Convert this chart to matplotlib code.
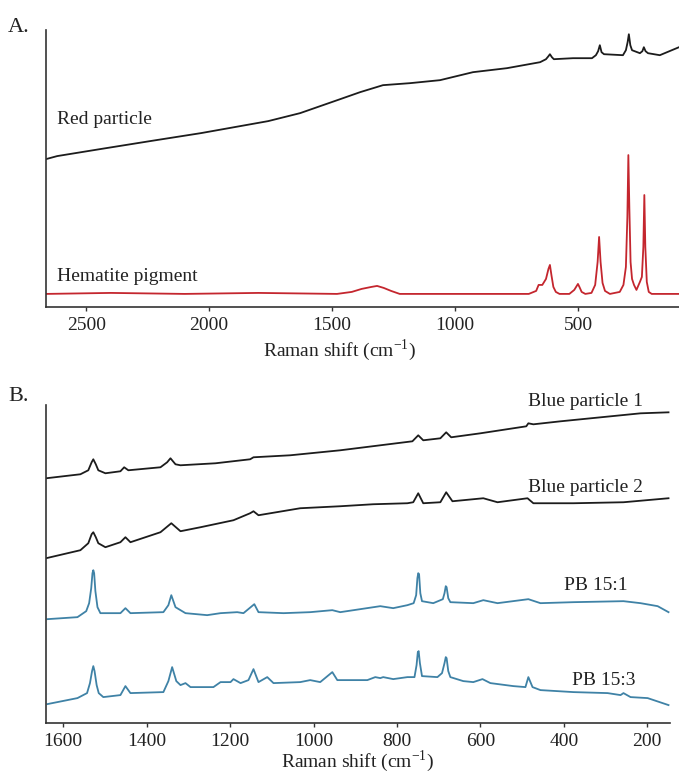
import matplotlib.pyplot as plt

plt.rcParams['font.family'] = ['Liberation Serif', 'DejaVu Serif']
plt.rcParams['mathtext.fontset'] = 'stix'

# ---- Panel A: red particle vs hematite (Raman shift cm-1, intensity a.u.)
red_shift = [2663, 2618, 2443, 2240, 2033, 1760, 1630, 1467, 1386, 1293, 1183, 1061,
             927, 789, 654, 630, 620, 614, 606, 598, 520, 443, 427, 418, 411, 404,
             394, 317, 305, 298, 293, 287, 280, 248, 238, 232, 225, 215, 167, 89]
red_int = [148, 151, 158, 166, 174, 186, 194, 208, 215, 222, 224, 227,
           235, 239, 245, 248, 251, 253, 250, 248, 249, 249, 252, 256, 262, 255,
           253, 252, 257, 265, 273, 262, 257, 254, 256, 260, 256, 254, 252, 260]

hem_shift = [2663, 2400, 2100, 1800, 1480, 1420, 1380, 1340, 1317, 1290, 1260, 1225,
             700, 670, 660, 645, 630, 620, 614, 608, 600, 590, 575, 535, 515, 505,
             500, 494, 485, 470, 445, 430, 420, 414, 408, 400, 390, 370, 330, 315,
             305, 299, 295, 291, 286, 280, 272, 262, 248, 240, 234, 230, 226, 220,
             212, 200, 89]
hem_int = [13, 14, 13, 14, 13, 15, 18, 20, 21, 19, 16, 13,
           13, 16, 22, 22, 28, 38, 42, 32, 20, 15, 13, 13, 17, 21,
           23, 20, 15, 13, 14, 22, 45, 70, 45, 24, 16, 13, 15, 22,
           40, 90, 152, 100, 45, 28, 22, 17, 25, 30, 60, 112, 60, 25,
           15, 13, 13]

# ---- Panel B: blue particles vs phthalocyanine pigments
bp1_shift = [1641, 1559, 1540, 1532, 1528, 1522, 1516, 1499, 1463, 1454, 1444, 1367,
             1351, 1343, 1331, 1319, 1235, 1152, 1144, 1056, 936, 840, 763, 749, 737,
             696, 682, 670, 600, 490, 485, 473, 408, 312, 216, 149]
bp1_int = [245, 249, 253, 261, 264, 259, 253, 250, 252, 256, 253, 256,
           261, 265, 259, 258, 260, 264, 266, 268, 273, 278, 282, 288, 283,
           285, 291, 286, 290, 297, 300, 299, 302, 306, 310, 311]

bp2_shift = [1641, 1559, 1540, 1532, 1528, 1522, 1516, 1499, 1463, 1451, 1439, 1367,
             1341, 1319, 1271, 1192, 1152, 1144, 1132, 1032, 936, 857, 775, 761, 749,
             737, 696, 682, 667, 593, 559, 487, 473, 377, 257, 149]
bp2_int = [165, 173, 180, 189, 191, 186, 180, 176, 181, 186, 181, 191,
           200, 192, 196, 203, 210, 212, 208, 215, 217, 219, 220, 221, 230,
           220, 221, 231, 222, 225, 221, 225, 220, 220, 221, 225]

pb151_shift = [1638, 1566, 1545, 1538, 1533, 1530, 1528, 1526, 1523, 1518, 1511, 1463,
               1451, 1439, 1360, 1348, 1341, 1331, 1307, 1255, 1223, 1183, 1168, 1142,
               1132, 1072, 1008, 955, 936, 840, 809, 775, 760, 754, 751, 749, 747, 744,
               740, 713, 690, 686, 683, 681, 677, 672, 617, 593, 559, 485, 456, 377,
               257, 216, 175, 149]
pb151_int = [104, 106, 112, 120, 135, 150, 153, 150, 132, 116, 110, 110,
             115, 110, 111, 118, 128, 116, 110, 108, 110, 111, 110, 119,
             111, 110, 111, 113, 111, 117, 115, 118, 120, 128, 145, 150, 149, 130,
             122, 120, 124, 130, 137, 136, 125, 121, 120, 123, 120, 124, 120, 121,
             122, 120, 117, 111]

pb153_shift = [1638, 1566, 1543, 1536, 1531, 1528, 1525, 1520, 1515, 1504, 1463, 1451,
               1439, 1360, 1348, 1339, 1329, 1319, 1307, 1295, 1240, 1223, 1199, 1192,
               1175, 1156, 1144, 1132, 1111, 1096, 1032, 1008, 984, 955, 943, 871, 852,
               840, 833, 809, 775, 758, 753, 750, 748, 745, 740, 703, 692, 686, 683,
               681, 677, 672, 641, 617, 595, 576, 521, 492, 485, 475, 456, 377, 295,
               264, 257, 240, 199, 149]
pb153_int = [19, 25, 30, 40, 52, 57, 52, 38, 30, 26, 28, 37,
             30, 31, 42, 56, 42, 38, 40, 36, 36, 41, 41, 44,
             40, 43, 54, 41, 46, 40, 41, 43, 41, 51, 43, 43, 46,
             45, 46, 44, 46, 46, 58, 71, 72, 60, 47, 46, 50, 60, 66,
             65, 52, 46, 42, 41, 44, 40, 37, 36, 46, 36, 33, 31, 30,
             28, 30, 26, 25, 18]

BLACK = '#1c1c1c'
RED = '#c4262e'
BLUE = '#3f82a6'
TXT = '#222222'


def style_axes(ax):
    for side in ['top', 'right']:
        ax.spines[side].set_visible(False)
    for side in ['left', 'bottom']:
        ax.spines[side].set_linewidth(1.2)
        ax.spines[side].set_color('#333333')
    ax.set_yticks([])
    ax.tick_params(axis='x', direction='out', length=3, width=1, pad=4,
                   labelsize=14, colors='#333333', labelcolor=TXT)


fig = plt.figure(figsize=(6.79, 7.75), dpi=100)

# Panel A
axA = fig.add_axes([0.068, 0.604, 0.932, 0.357])
axA.plot(red_shift, red_int, color=BLACK, lw=1.3)
axA.plot(hem_shift, hem_int, color=RED, lw=1.3)
axA.set_xlim(2663, 89)
axA.set_ylim(0, 277)
axA.set_xticks([2500, 2000, 1500, 1000, 500])
style_axes(axA)
axA.set_xlabel(r'Raman shift (cm$^{\mathregular{-1}}$)', fontsize=14, color=TXT)
axA.xaxis.set_label_coords(0.464, -0.112)
axA.text(2618, 183, 'Red particle', fontsize=14, color=TXT, va='baseline')
axA.text(2618, 26, 'Hematite pigment', fontsize=14, color=TXT, va='baseline')
fig.text(0.012, 0.965, 'A.', fontsize=16, color=TXT, va='center')

# Panel B
axB = fig.add_axes([0.068, 0.067, 0.919, 0.410])
axB.plot(bp1_shift, bp1_int, color=BLACK, lw=1.3)
axB.plot(bp2_shift, bp2_int, color=BLACK, lw=1.3)
axB.plot(pb151_shift, pb151_int, color=BLUE, lw=1.3)
axB.plot(pb153_shift, pb153_int, color=BLUE, lw=1.3)
axB.set_xlim(1641, 145)
axB.set_ylim(0, 318)
axB.set_xticks([1600, 1400, 1200, 1000, 800, 600, 400, 200])
style_axes(axB)
axB.set_xlabel(r'Raman shift (cm$^{\mathregular{-1}}$)', fontsize=14, color=TXT)
axB.xaxis.set_label_coords(0.5, -0.08)
axB.text(209, 317, 'Blue particle 1', fontsize=14, color=TXT, va='baseline', ha='right')
axB.text(209, 231, 'Blue particle 2', fontsize=14, color=TXT, va='baseline', ha='right')
axB.text(247, 133, 'PB 15:1', fontsize=14, color=TXT, va='baseline', ha='right')
axB.text(228, 38, 'PB 15:3', fontsize=14, color=TXT, va='baseline', ha='right')
fig.text(0.012, 0.488, 'B.', fontsize=16, color=TXT, va='center')

fig.savefig('out.png', dpi=100)
